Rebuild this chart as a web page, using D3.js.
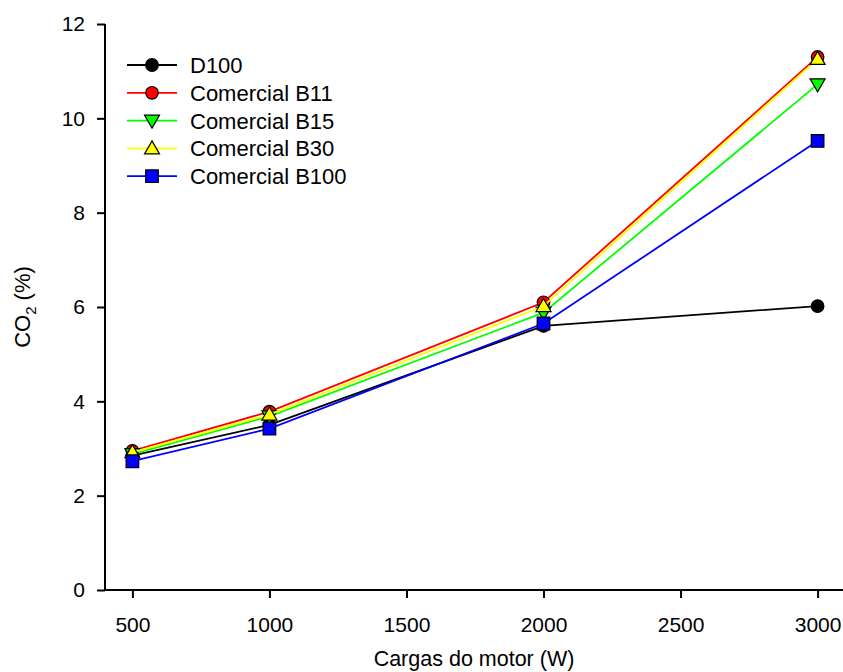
<!DOCTYPE html>
<html>
<head>
<meta charset="utf-8">
<script src="https://cdn.jsdelivr.net/npm/d3@7"></script>
<style>
  html, body { margin: 0; padding: 0; background: #fff; }
  svg { display: block; font-family: Arial, "Liberation Sans", sans-serif; }
</style>
</head>
<body>
<svg id="chart" width="843" height="672"></svg>
<script>
// Engine load (W)
const loads = [500, 1000, 2000, 3000];

// CO2 (%) per fuel
const d100 = [2.85, 3.50, 5.60, 6.02];
const b11  = [2.95, 3.78, 6.10, 11.30];
const b15  = [2.88, 3.68, 5.88, 10.72];
const b30  = [2.92, 3.72, 6.02, 11.26];
const b100 = [2.73, 3.42, 5.65, 9.52];

const seriesNames = ["D100", "Comercial B11", "Comercial B15", "Comercial B30", "Comercial B100"];
const seriesColors = ["#000000", "#ff0000", "#00ff00", "#ffff00", "#0000ff"];
const seriesSymbols = ["circle", "circle", "triangleDown", "triangleUp", "square"];

const xTicks = [500, 1000, 1500, 2000, 2500, 3000];
const yTicks = [0, 2, 4, 6, 8, 10, 12];

const series = [d100, b11, b15, b30, b100].map((vals, i) => ({
  name: seriesNames[i],
  color: seriesColors[i],
  symbol: seriesSymbols[i],
  points: loads.map((x, j) => ({ x, y: vals[j] }))
}));

const svg = d3.select("#chart");

const x = d3.scaleLinear().domain([400, 3100]).range([105, 845]);
const y = d3.scaleLinear().domain([0, 12]).range([590, 24]);

// marker path generator
function markerPath(kind) {
  if (kind === "circle") return d3.symbol().type(d3.symbolCircle).size(Math.PI * 6.3 * 6.3)();
  if (kind === "square") return "M-6.3,-6.3H6.3V6.3H-6.3Z";
  if (kind === "triangleUp") return "M0,-7.5L7.5,5.5H-7.5Z";
  if (kind === "triangleDown") return "M0,7.5L7.5,-5.5H-7.5Z";
}

// axes
const xAxis = d3.axisBottom(x).tickValues(xTicks).tickSize(8).tickPadding(19).tickFormat(d3.format("d"));
const yAxis = d3.axisLeft(y).tickValues(yTicks).tickSize(8).tickPadding(12).tickFormat(d3.format("d"));

const gx = svg.append("g").attr("transform", "translate(0,590)").call(xAxis);
const gy = svg.append("g").attr("transform", "translate(105,0)").call(yAxis);

[gx, gy].forEach(g => {
  g.select(".domain").attr("stroke", "#000").attr("stroke-width", 2);
  g.selectAll(".tick line").attr("stroke", "#000").attr("stroke-width", 2);
  g.selectAll(".tick text").attr("fill", "#000").style("font-size", "21px");
});
gx.select(".domain").attr("d", "M105,0H843");
gy.select(".domain").attr("d", "M0,590V24");

// axis titles
svg.append("text")
  .attr("x", 474).attr("y", 666)
  .attr("text-anchor", "middle")
  .style("font-size", "21.5px")
  .text("Cargas do motor (W)");

const yTitle = svg.append("text")
  .attr("transform", "translate(30,307) rotate(-90)")
  .attr("text-anchor", "middle")
  .style("font-size", "22px");
yTitle.append("tspan").text("CO");
yTitle.append("tspan").attr("dy", 6).style("font-size", "15px").text("2");
yTitle.append("tspan").attr("dy", -6).text(" (%)");

// lines and markers
const line = d3.line().x(d => x(d.x)).y(d => y(d.y));

series.forEach(s => {
  const g = svg.append("g");
  g.append("path")
    .datum(s.points)
    .attr("d", line)
    .attr("fill", "none")
    .attr("stroke", s.color)
    .attr("stroke-width", 1.8);
  g.selectAll("path.mark")
    .data(s.points)
    .join("path")
    .attr("class", "mark")
    .attr("transform", d => `translate(${x(d.x)},${y(d.y)})`)
    .attr("d", markerPath(s.symbol))
    .attr("fill", s.color)
    .attr("stroke", "#000")
    .attr("stroke-width", 1.2);
});

// legend
const legend = svg.append("g");
series.forEach((s, i) => {
  const ly = 65 + i * 27.8;
  legend.append("line")
    .attr("x1", 127).attr("x2", 177)
    .attr("y1", ly).attr("y2", ly)
    .attr("stroke", s.color).attr("stroke-width", 1.8);
  legend.append("path")
    .attr("transform", `translate(152,${ly})`)
    .attr("d", markerPath(s.symbol))
    .attr("fill", s.color)
    .attr("stroke", "#000")
    .attr("stroke-width", 1.2);
  legend.append("text")
    .attr("x", 190).attr("y", ly + 8)
    .style("font-size", "22px")
    .text(s.name);
});
</script>
</body>
</html>
